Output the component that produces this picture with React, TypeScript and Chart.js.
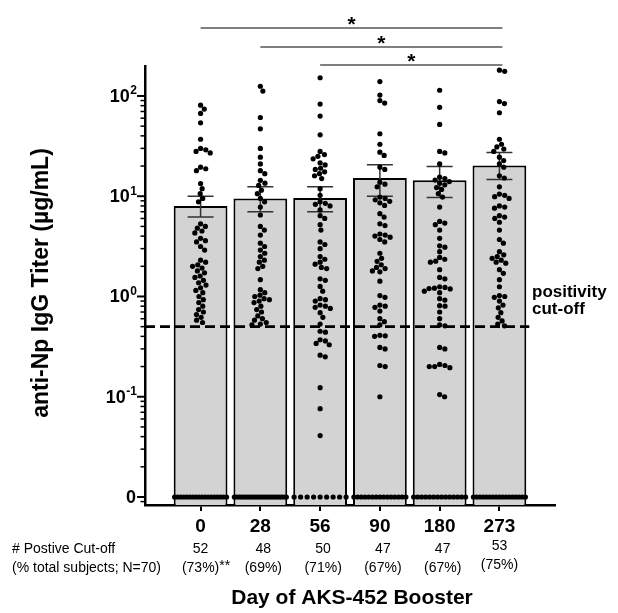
import { useEffect, useRef } from 'react';
import { Chart, registerables } from 'chart.js';
Chart.register(...registerables);

const FONT = "'Liberation Sans', Arial, Helvetica, sans-serif";

const DAYS = ['0', '28', '56', '90', '180', '273'];
const MEANS = [8.0, 9.5, 9.6, 15.2, 14.4, 20.3];
const ERR_HIGH = [10.0, 12.4, 12.4, 20.6, 19.8, 27.3];
const ERR_LOW = [6.2, 7.0, 7.0, 10.0, 9.7, 14.7];
const CUTOFF = 0.5;
const ZERO_AT = 0.01;
const Y_MIN = 0.00832;
const Y_MAX = 199;
const Y_TICKS = [0.01, 0.1, 1, 10, 100];
const Y_TICK_BASES = ['0', '10', '10', '10', '10'];
const Y_TICK_EXPS = ['', '-1', '0', '1', '2'];
const POS_COUNTS = ['52', '48', '50', '47', '47', '53'];
const POS_PCTS = ['(73%)', '(69%)', '(71%)', '(67%)', '(67%)', '(75%)'];
const POS_NOTES = ['**', '', '', '', '', ''];
const ZERO_COUNTS = [18, 22, 9, 15, 14, 17];
const SIG_PAIRS = [[0, 5], [1, 5], [2, 5]];
const SIG_LABELS = ['*', '*', '*'];

const DAY0 = [81, 74, 67, 54, 37, 30, 29, 28, 27, 19.5, 18.8, 18, 13.4, 11.9, 10.6, 9.5, 8.8, 5.3, 5.0, 4.8, 4.5, 4.3, 3.8, 3.6, 3.5, 3.15, 2.9, 2.3, 2.2, 2.07, 2.0, 1.92, 1.8, 1.72, 1.6, 1.55, 1.45, 1.37, 1.3, 1.22, 1.15, 1.09, 1.0, 0.93, 0.87, 0.8, 0.74, 0.7, 0.66, 0.62, 0.58, 0.55];
const DAY28 = [125, 112, 61, 47, 30, 24.5, 21, 18, 16.8, 14.4, 13.5, 12.8, 11.5, 10.6, 9.5, 8.8, 7.8, 6.5, 5.0, 4.6, 4.1, 3.4, 3.15, 2.9, 2.7, 2.5, 2.3, 2.2, 2.0, 1.9, 1.47, 1.17, 1.09, 1.03, 1.0, 0.95, 0.93, 0.9, 0.87, 0.8, 0.74, 0.7, 0.64, 0.6, 0.58, 0.55, 0.53, 0.52];
const DAY56 = [152, 83, 63, 41, 28, 26, 25, 23.6, 21.5, 20.5, 19, 18.5, 17.5, 16.8, 16, 15, 11.9, 10.2, 8.8, 8.5, 8.3, 8.0, 7.3, 6.4, 6.0, 5.2, 4.6, 3.5, 3.3, 3.0, 2.5, 2.35, 2.2, 2.1, 1.95, 1.9, 1.5, 1.45, 1.26, 1.13, 0.95, 0.93, 0.9, 0.82, 0.8, 0.78, 0.76, 0.69, 0.62, 0.53, 0.45, 0.44, 0.37, 0.36, 0.34, 0.33, 0.26, 0.25, 0.123, 0.076, 0.041];
const DAY90 = [139, 102, 90, 85, 42, 33, 27.5, 25.5, 19.5, 18.5, 13.8, 13.2, 12.4, 9.8, 9.5, 9.2, 8.9, 8.6, 8.1, 6.7, 6.2, 5.3, 5.1, 4.2, 4.1, 4.0, 3.9, 3.7, 3.5, 2.7, 2.4, 2.24, 2.07, 1.95, 1.9, 1.8, 1.76, 1.42, 1.02, 0.98, 0.82, 0.8, 0.78, 0.715, 0.6, 0.56, 0.52, 0.41, 0.405, 0.4, 0.31, 0.3, 0.205, 0.2, 0.1];
const DAY180 = [114, 77, 52, 28, 27, 21, 15.5, 15, 14.5, 14, 13.5, 13, 12.2, 11.7, 10.6, 9.8, 7.8, 5.6, 5.4, 5.2, 4.6, 3.8, 3.2, 3.1, 2.8, 2.45, 2.35, 2.25, 2.2, 1.85, 1.55, 1.5, 1.25, 1.23, 1.21, 1.2, 1.19, 1.13, 1.09, 0.95, 0.92, 0.81, 0.8, 0.7, 0.6, 0.52, 0.51, 0.31, 0.3, 0.21, 0.205, 0.2, 0.2, 0.195, 0.105, 0.1];
const DAY273 = [181, 176, 88, 84, 68, 37, 33, 31, 29.5, 28, 24.5, 22.7, 21, 19.5, 16, 15.2, 12.4, 10.5, 10.2, 9.9, 9.5, 8.0, 7.8, 7.6, 6.4, 6.2, 6.0, 5.5, 4.6, 3.7, 3.4, 2.8, 2.6, 2.5, 2.4, 2.3, 2.2, 2.15, 1.85, 1.7, 1.47, 1.25, 1.02, 1.0, 0.98, 0.9, 0.82, 0.77, 0.69, 0.62, 0.57, 0.53, 0.51];
const COLUMNS = [DAY0, DAY28, DAY56, DAY90, DAY180, DAY273];

// approximate pixel scales used only to lay out the swarm
const PX_PER_CAT = 59.77;
const PX_PER_DEC = 100.25;
const DOT_D = 5.4;
const ZERO_SPAN = 52;

function swarmOffsets(values: number[]): number[] {
  const items = values.map((v, idx) => ({ idx, y: -Math.log10(v) * PX_PER_DEC }));
  items.sort((a, b) => a.y - b.y);
  const placed: { x: number; y: number }[] = [];
  const out = new Array(values.length).fill(0);
  for (const it of items) {
    const near = placed.filter((p) => Math.abs(p.y - it.y) < DOT_D);
    const cands = [0];
    for (const p of near) {
      const dy = p.y - it.y;
      const dx = Math.sqrt(DOT_D * DOT_D - dy * dy);
      cands.push(p.x + dx, p.x - dx);
    }
    cands.sort((a, b) => Math.abs(a) - Math.abs(b));
    let chosen = 0;
    for (const c of cands) {
      const ok = near.every((p) => (c - p.x) ** 2 + (p.y - it.y) ** 2 >= DOT_D * DOT_D - 0.01);
      if (ok) { chosen = c; break; }
    }
    placed.push({ x: chosen, y: it.y });
    out[it.idx] = chosen;
  }
  return out;
}

function buildPoints() {
  const pts: { x: number; y: number }[] = [];
  COLUMNS.forEach((vals, i) => {
    const offs = swarmOffsets(vals);
    vals.forEach((v, j) => pts.push({ x: i + offs[j] / PX_PER_CAT, y: v }));
    const n = ZERO_COUNTS[i];
    for (let j = 0; j < n; j++) {
      const off = n > 1 ? (j - (n - 1) / 2) * (ZERO_SPAN / (n - 1)) : 0;
      pts.push({ x: i + off / PX_PER_CAT, y: ZERO_AT });
    }
  });
  return pts;
}

const overlayPlugin = {
  id: 'overlay',
  afterDatasetDraw(chart: any, args: any) {
    if (args.index !== 0) return;
    const { ctx, chartArea } = chart;
    const xs = chart.scales.x;
    const ys = chart.scales.y;
    ctx.save();
    const yc = ys.getPixelForValue(CUTOFF);
    ctx.setLineDash([10, 5]);
    ctx.lineWidth = 2.6;
    ctx.strokeStyle = '#000';
    ctx.beginPath();
    ctx.moveTo(chartArea.left, yc);
    ctx.lineTo(xs.getPixelForValue(5.5), yc);
    ctx.stroke();
    ctx.setLineDash([]);
    ctx.strokeStyle = '#333';
    ctx.lineWidth = 1.5;
    MEANS.forEach((_, i) => {
      const px = xs.getPixelForValue(i);
      const hi = ys.getPixelForValue(ERR_HIGH[i]);
      const lo = ys.getPixelForValue(ERR_LOW[i]);
      ctx.beginPath();
      ctx.moveTo(px, hi); ctx.lineTo(px, lo);
      ctx.moveTo(px - 13, hi); ctx.lineTo(px + 13, hi);
      ctx.moveTo(px - 13, lo); ctx.lineTo(px + 13, lo);
      ctx.stroke();
    });
    ctx.restore();
  },
  afterDraw(chart: any) {
    const { ctx, chartArea } = chart;
    const xs = chart.scales.x;
    const ys = chart.scales.y;
    const left = chartArea.left;
    ctx.save();
    ctx.fillStyle = '#000';
    ctx.strokeStyle = '#000';
    for (let k = -3; k <= 2; k++) {
      for (let m = 1; m <= 9; m++) {
        const v = m * Math.pow(10, k);
        if (v < Y_MIN || v > Y_MAX) continue;
        const py = ys.getPixelForValue(v);
        const len = m === 1 ? 8 : 4.5;
        ctx.lineWidth = m === 1 ? 2 : 1.5;
        ctx.beginPath();
        ctx.moveTo(left - len, py);
        ctx.lineTo(left, py);
        ctx.stroke();
      }
    }
    Y_TICKS.forEach((v, i) => {
      const py = ys.getPixelForValue(v);
      const right = left - 8;
      ctx.textBaseline = 'alphabetic';
      ctx.font = `bold 12px ${FONT}`;
      const exp = Y_TICK_EXPS[i];
      const ew = exp ? ctx.measureText(exp).width : 0;
      if (exp) {
        ctx.textAlign = 'left';
        ctx.fillText(exp, right - ew, py - 1.5);
      }
      ctx.font = `bold 18px ${FONT}`;
      ctx.textAlign = 'right';
      ctx.textBaseline = 'middle';
      ctx.fillText(Y_TICK_BASES[i], right - ew - (exp ? 0.5 : 1), py + 1);
    });
    ctx.save();
    ctx.translate(42, 283);
    ctx.rotate(-Math.PI / 2);
    ctx.font = `bold 23px ${FONT}`;
    ctx.textAlign = 'center';
    ctx.textBaseline = 'middle';
    ctx.fillText('anti-Np IgG Titer (µg/mL)', 0, 0);
    ctx.restore();
    ctx.font = `bold 17px ${FONT}`;
    ctx.textAlign = 'left';
    ctx.textBaseline = 'middle';
    ctx.fillText('positivity', 532, 292);
    ctx.fillText('cut-off', 532, 309);
    const bracketY = [chartArea.top - 38, chartArea.top - 19, chartArea.top - 1];
    SIG_PAIRS.forEach(([a, b], i) => {
      const x1 = xs.getPixelForValue(a);
      const x2 = xs.getPixelForValue(b) + 3;
      const yy = bracketY[i];
      ctx.strokeStyle = '#555';
      ctx.lineWidth = 1.5;
      ctx.beginPath();
      ctx.moveTo(x1, yy);
      ctx.lineTo(x2, yy);
      ctx.stroke();
      ctx.font = `bold 21px ${FONT}`;
      ctx.textAlign = 'center';
      ctx.textBaseline = 'alphabetic';
      ctx.fillStyle = '#000';
      ctx.fillText(SIG_LABELS[i], (x1 + x2) / 2, yy + 3);
    });
    const row1 = 549;
    const row2 = 568;
    ctx.font = `14px ${FONT}`;
    ctx.textBaseline = 'middle';
    ctx.textAlign = 'left';
    ctx.fillText('# Postive Cut-off', 12, row1);
    ctx.fillText('(% total subjects; N=70)', 12, row2);
    DAYS.forEach((_, i) => {
      const px = xs.getPixelForValue(i) + (i > 0 && i < 5 ? 3 : 0);
      const dy = i === 5 ? -3 : 0;
      ctx.textAlign = 'center';
      ctx.fillText(POS_COUNTS[i], px, row1 + dy);
      ctx.fillText(POS_PCTS[i], px, row2 + dy);
      if (POS_NOTES[i]) {
        const w = ctx.measureText(POS_PCTS[i]).width;
        ctx.textAlign = 'left';
        ctx.fillText(POS_NOTES[i], px + w / 2, row2 - 2 + dy);
      }
    });
    ctx.font = `bold 21px ${FONT}`;
    ctx.textAlign = 'center';
    ctx.textBaseline = 'middle';
    ctx.fillText('Day of AKS-452 Booster', 352, 598);
    ctx.restore();
  },
};

export default function App() {
  const ref = useRef<HTMLCanvasElement>(null);
  useEffect(() => {
    document.body.style.margin = '0';
    const canvas = ref.current;
    if (!canvas) return;
    const chart = new Chart(canvas, {
      type: 'bar',
      data: {
        datasets: [
          {
            type: 'bar',
            data: MEANS.map((m, i) => ({ x: i, y: m })),
            backgroundColor: '#d3d3d3',
            borderColor: '#000',
            borderWidth: 2,
            barPercentage: 0.9,
            categoryPercentage: 1,
            order: 2,
          } as any,
          {
            type: 'scatter',
            data: buildPoints(),
            pointRadius: 2.6,
            pointBackgroundColor: '#000',
            pointBorderWidth: 0,
            showLine: false,
            order: 1,
          } as any,
        ],
      },
      options: {
        animation: false,
        responsive: true,
        maintainAspectRatio: false,
        events: [],
        layout: { padding: { left: 0, right: 63, top: 66, bottom: 68 } },
        plugins: { legend: { display: false }, tooltip: { enabled: false } },
        scales: {
          x: {
            type: 'linear',
            offset: false,
            min: -0.93,
            max: 5.93,
            afterBuildTicks: (s: any) => { s.ticks = DAYS.map((_, i) => ({ value: i })); },
            afterFit: (s: any) => { s.height = 40; },
            ticks: {
              autoSkip: false,
              maxRotation: 0,
              padding: 4,
              color: '#000',
              font: { family: FONT, size: 19, weight: 'bold' },
              callback: (v: any) => DAYS[v as number] ?? '',
            },
            grid: { display: true, offset: false, drawOnChartArea: false, drawTicks: true, tickLength: 6, color: '#000', lineWidth: 2 },
            border: { display: true, color: '#000', width: 2.5 },
          },
          y: {
            type: 'logarithmic',
            min: Y_MIN,
            max: Y_MAX,
            afterFit: (s: any) => { s.width = 145; },
            ticks: { display: false },
            grid: { display: false },
            border: { display: true, color: '#000', width: 2.5 },
          },
        },
      } as any,
      plugins: [overlayPlugin],
    });
    return () => chart.destroy();
  }, []);
  return (
    <div style={{ width: 618, height: 613, position: 'relative', background: '#fff' }}>
      <canvas ref={ref} />
    </div>
  );
}
